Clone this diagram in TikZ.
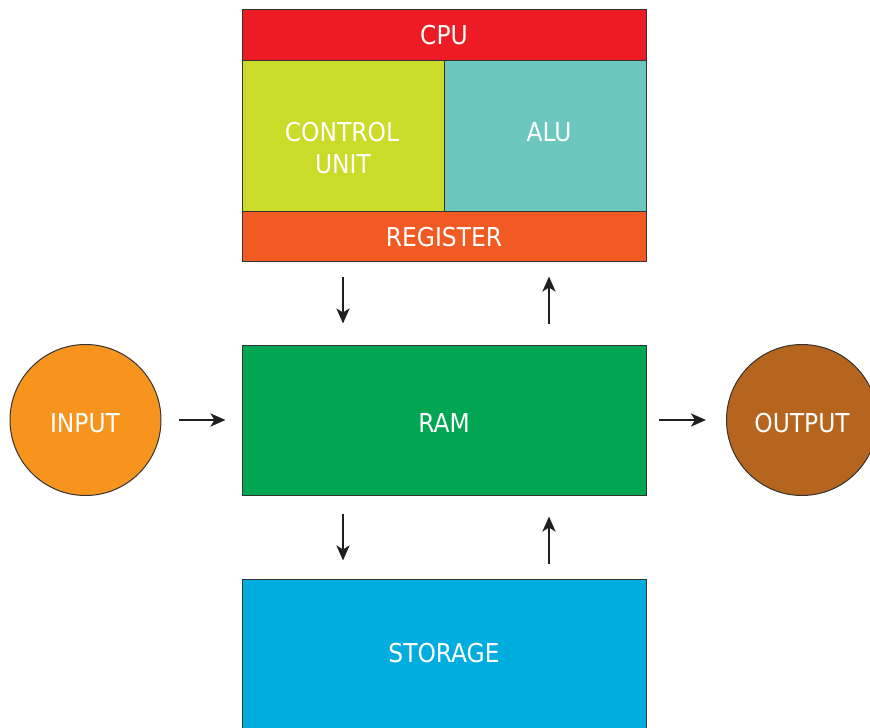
\documentclass[tikz,border=0pt]{standalone}
\usepackage{fontspec}
\setmainfont{DejaVu Sans Condensed}
\usetikzlibrary{arrows.meta}
\definecolor{cpured}{HTML}{ED1C24}
\definecolor{cugreen}{HTML}{CBDB2A}
\definecolor{aluteal}{HTML}{6CC8BE}
\definecolor{regorange}{HTML}{F15A22}
\definecolor{ramgreen}{HTML}{00A651}
\definecolor{inorange}{HTML}{F7941D}
\definecolor{outbrown}{HTML}{B5651D}
\definecolor{storblue}{HTML}{00ADDE}
\definecolor{edge}{HTML}{333333}
\tikzset{
  box/.style={draw=edge, line width=1pt, inner sep=0pt, rectangle},
  disc/.style={draw=edge, line width=1pt, inner sep=0pt, circle, minimum size=151pt},
  lbl/.style={text=white, font=\fontsize{26}{32}\selectfont, anchor=base, inner sep=0pt},
  arr/.style={line width=2.6pt, draw=black!88, -{Stealth[length=15pt,width=13pt,inset=4pt]}},
}
\begin{document}
\begin{tikzpicture}[x=1pt,y=-1pt]
\useasboundingbox (0,0) rectangle (870,728);
\clip (0,0) rectangle (870,728);
% boxes
\node[box, fill=cpured, minimum width=404pt, minimum height=51pt] (cpu) at (444,34.5) {};
\node[box, fill=cugreen, minimum width=202pt, minimum height=151pt] (cu) at (343,135.5) {};
\node[box, fill=aluteal, minimum width=202pt, minimum height=151pt] (alu) at (545,135.5) {};
\node[box, fill=regorange, minimum width=404pt, minimum height=50pt] (reg) at (444,236) {};
\node[box, fill=ramgreen, minimum width=404pt, minimum height=150pt] (ram) at (444,420) {};
\node[box, fill=storblue, minimum width=404pt, minimum height=170pt] (stor) at (444,664) {};
\node[disc, fill=inorange] (in) at (85.5,420) {};
\node[disc, fill=outbrown] (out) at (802,420) {};
% labels
\node[lbl] (tcpu) at (444,44.5) {CPU};
\node[lbl] (tcu1) at (342,141) {CONTROL};
\node[lbl] (tcu2) at (343,173) {UNIT};
\node[lbl] (talu) at (549,141) {ALU};
\node[lbl] (treg) at (444,246.5) {REGISTER};
\node[lbl] (tram) at (444,432.5) {RAM};
\node[lbl] (tin) at (85,432.5) {INPUT};
\node[lbl] (tout) at (802,432.5) {OUTPUT};
\node[lbl] (tstor) at (444,662.5) {STORAGE};
% arrows
\draw[arr] ([xshift=-101pt,yshift=-15pt]reg.south) -- ([xshift=-101pt,yshift=21pt]ram.north);
\draw[arr] ([xshift=105pt,yshift=21pt]ram.north) -- ([xshift=105pt,yshift=-15pt]reg.south);
\draw[arr] ([xshift=17pt]in.east) -- ([xshift=-16pt]ram.west);
\draw[arr] ([xshift=12pt]ram.east) -- ([xshift=-20pt]out.west);
\draw[arr] ([xshift=-101pt,yshift=-18pt]ram.south) -- ([xshift=-101pt,yshift=18pt]stor.north);
\draw[arr] ([xshift=105pt,yshift=15pt]stor.north) -- ([xshift=105pt,yshift=-21pt]ram.south);
\end{tikzpicture}
\end{document}
